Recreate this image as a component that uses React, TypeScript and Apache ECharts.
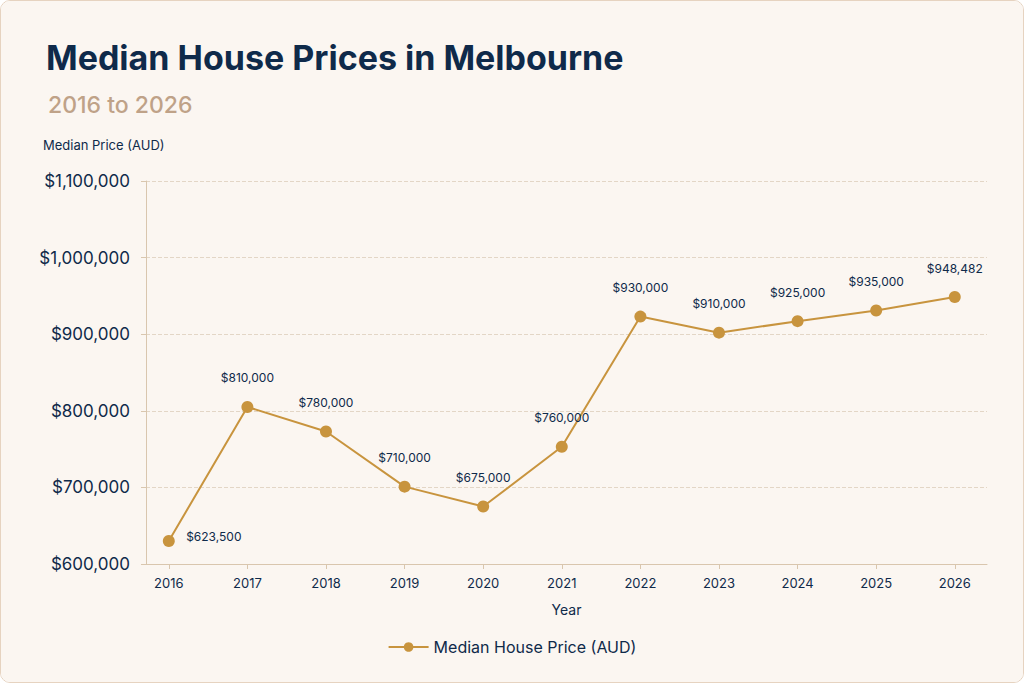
import React, { useEffect, useRef } from "react";
import * as echarts from "echarts";

const years = [2016, 2017, 2018, 2019, 2020, 2021, 2022, 2023, 2024, 2025, 2026];
const prices = [630000, 805000, 773000, 701000, 675000, 753000, 923000, 902000, 917000, 931000, 948482];
const priceLabels = ["$623,500", "$810,000", "$780,000", "$710,000", "$675,000", "$760,000", "$930,000", "$910,000", "$925,000", "$935,000", "$948,482"];

const navy = "#0f2a4a";
const gold = "#c8943e";
const font = "Inter, 'Noto Sans', sans-serif";

export default function App() {
  const chartRef = useRef<HTMLDivElement | null>(null);

  useEffect(() => {
    document.body.style.margin = "0";
    const myChart = echarts.init(chartRef.current as HTMLDivElement, null, { renderer: "svg" });

    const option = {
      animation: false,
      backgroundColor: "#fbf6f1",
      textStyle: { fontFamily: font },
      title: [
        {
          text: "Median House Prices in Melbourne",
          left: 40,
          top: 34,
          textStyle: { fontSize: 34, fontWeight: "bold", color: navy, fontFamily: font },
        },
        {
          text: "2016 to 2026",
          left: 42,
          top: 87,
          textStyle: { fontSize: 23, fontWeight: 500, color: "#bfa288", fontFamily: font },
        },
      ],
      legend: {
        bottom: 22,
        left: "center",
        itemWidth: 40,
        itemHeight: 12,
        textStyle: { fontSize: 16, color: navy },
        data: ["Median House Price (AUD)"],
      },
      grid: { left: 145, right: 36, top: 180, bottom: 118 },
      xAxis: {
        type: "value",
        min: 2015.71,
        max: 2026.41,
        name: "Year",
        nameLocation: "middle",
        nameGap: 38,
        nameTextStyle: { fontSize: 14, color: navy },
        axisLine: { show: true, lineStyle: { color: "#d9c6ae" } },
        axisTick: { show: true, customValues: years, lineStyle: { color: "#d9c6ae" } },
        axisLabel: { customValues: years, fontSize: 13, color: navy, margin: 12, formatter: (v: number) => String(Math.round(v)) },
        splitLine: { show: false },
      },
      yAxis: {
        type: "value",
        min: 600000,
        max: 1100000,
        interval: 100000,
        name: "Median Price (AUD)",
        nameLocation: "end",
        nameGap: 30,
        nameTextStyle: { fontSize: 13, color: navy, align: "left", padding: [0, 0, 0, -103] },
        axisLine: { show: true, lineStyle: { color: "#d9c6ae" } },
        axisLabel: {
          fontSize: 17,
          color: navy,
          margin: 16,
          formatter: (v: number) => "$" + v.toLocaleString("en-US"),
        },
        splitLine: { lineStyle: { color: "#e3d6c6", type: "dashed" } },
      },
      series: [
        {
          name: "Median House Price (AUD)",
          type: "line",
          data: years.map((y, i) => [y, prices[i]]),
          symbol: "circle",
          symbolSize: 12,
          itemStyle: { color: gold },
          lineStyle: { color: gold, width: 2 },
          label: {
            show: true,
            fontSize: 12,
            color: navy,
            formatter: (p: any) => priceLabels[p.dataIndex],
          },
          labelLayout: (p: any) =>
            p.dataIndex === 0 ? { dx: 45, dy: 12 } : { dy: -12 },
        },
      ],
    };

    myChart.setOption(option);
    return () => {
      myChart.dispose();
    };
  }, []);

  return (
    <div style={{ width: 1024, height: 683, boxSizing: "border-box", border: "1px solid #e6d3c0", borderRadius: 10, overflow: "hidden" }}>
      <div ref={chartRef} style={{ width: "100%", height: "100%" }} />
    </div>
  );
}
